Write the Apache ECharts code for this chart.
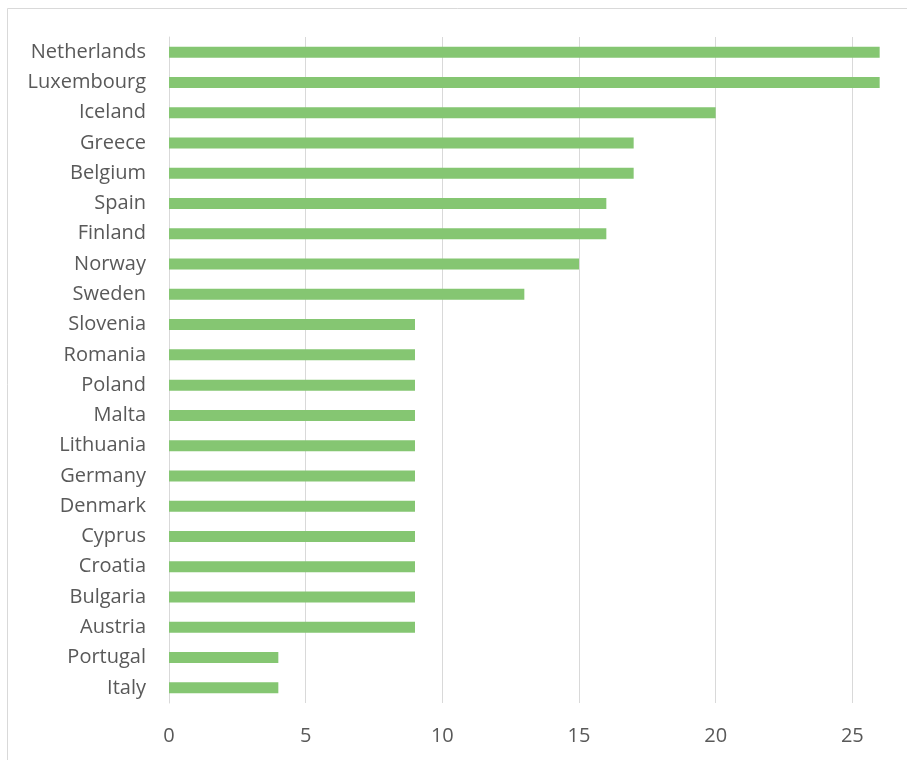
<!DOCTYPE html>
<html>
<head>
<meta charset="utf-8">
<script src="https://cdn.jsdelivr.net/npm/echarts@6/dist/echarts.min.js"></script>
<style>
  html, body { margin: 0; padding: 0; background: #fff; }
  #main { width: 907px; height: 760px; }
</style>
</head>
<body>
<div id="main"></div>
<script>
// 数据（自下而上）
var countries = ['Italy', 'Portugal', 'Austria', 'Bulgaria', 'Croatia', 'Cyprus', 'Denmark', 'Germany',
    'Lithuania', 'Malta', 'Poland', 'Romania', 'Slovenia', 'Sweden', 'Norway', 'Finland', 'Spain',
    'Belgium', 'Greece', 'Iceland', 'Luxembourg', 'Netherlands'];
var values = [4, 4, 9, 9, 9, 9, 9, 9, 9, 9, 9, 9, 9, 13, 15, 16, 16, 17, 17, 20, 26, 26];

var myChart = echarts.init(document.getElementById('main'));

var option = {
    backgroundColor: '#fff',
    animation: false,
    textStyle: { fontFamily: 'Open Sans' },
    graphic: [{
        type: 'rect',
        shape: { x: 7.5, y: 8.5, width: 920, height: 780 },
        style: { fill: 'none', stroke: '#d9d9d9', lineWidth: 1 },
        silent: true
    }],
    grid: {
        left: 169,
        top: 37,
        right: 0,
        height: 666,
        containLabel: false
    },
    xAxis: {
        type: 'value',
        min: 0,
        max: 27,
        interval: 5,
        axisLine: { show: false },
        axisTick: { show: false },
        splitLine: { showMaxLine: false, lineStyle: { color: '#d9d9d9', width: 1 } },
        axisLabel: { color: '#595959', fontSize: 20, margin: 23, showMaxLabel: false }
    },
    yAxis: {
        type: 'category',
        data: countries,
        axisLine: { lineStyle: { color: '#d9d9d9' } },
        axisTick: { show: false },
        axisLabel: { color: '#595959', fontSize: 20, margin: 23 }
    },
    series: [{
        type: 'bar',
        data: values,
        barWidth: 11,
        itemStyle: { color: '#85c672' }
    }]
};

myChart.setOption(option);
</script>
</body>
</html>
